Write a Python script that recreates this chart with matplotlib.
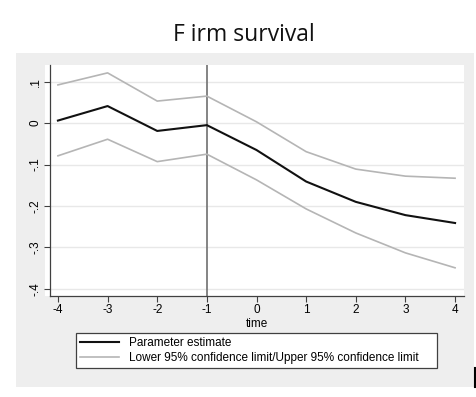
import matplotlib
matplotlib.use("Agg")
import matplotlib.pyplot as plt
from matplotlib.patches import Rectangle
from matplotlib.lines import Line2D

time = [-4, -3, -2, -1, 0, 1, 2, 3, 4]
estimate = [0.006, 0.041, -0.019, -0.005, -0.065, -0.141, -0.190, -0.222, -0.241]
upper = [0.092, 0.121, 0.053, 0.065, 0.003, -0.069, -0.111, -0.128, -0.133]
lower = [-0.079, -0.039, -0.093, -0.075, -0.137, -0.207, -0.265, -0.313, -0.349]
yticks = [0.1, 0.0, -0.1, -0.2, -0.3, -0.4]
ytick_labels = [".1", "0", "-.1", "-.2", "-.3", "-.4"]
xticks = [-4, -3, -2, -1, 0, 1, 2, 3, 4]
ref_time = -1

W, H = 477, 397
fig = plt.figure(figsize=(W / 100, H / 100), dpi=100)
fig.patch.set_facecolor("white")

def fx(px):
    return px / W

def fy(py):
    return 1 - py / H

# gray graph region
fig.patches.append(Rectangle((fx(16), fy(387)), fx(474) - fx(16), fy(53) - fy(387),
                             transform=fig.transFigure, facecolor="#eeeeee",
                             edgecolor="none", zorder=-2))
# white plot region (slightly left of axis line)
fig.patches.append(Rectangle((fx(45), fy(296)), fx(464) - fx(45), fy(65) - fy(296),
                             transform=fig.transFigure, facecolor="white",
                             edgecolor="none", zorder=-1))

ax = fig.add_axes([fx(50), fy(296), fx(464) - fx(50), fy(65) - fy(296)])
ax.set_facecolor("white")
ax.set_xlim(-4.16, 4.18)
ax.set_ylim(-0.417, 0.14)

for s in ["top", "right"]:
    ax.spines[s].set_visible(False)
for s in ["left", "bottom"]:
    ax.spines[s].set_color("#404040")
    ax.spines[s].set_linewidth(0.9)

ax.set_yticks(yticks)
ax.set_yticklabels(ytick_labels, rotation=90, va="center")
ax.set_xticks(xticks)
ax.set_xticklabels([str(t) for t in xticks])
ax.tick_params(axis="both", direction="out", length=4, width=0.8, color="#404040",
               labelsize=8.5, labelcolor="black", pad=2)
for lab in ax.get_xticklabels() + ax.get_yticklabels():
    lab.set_family("Liberation Sans")
ax.yaxis.grid(True, color="#e8e8e8", linewidth=1.0)
ax.set_axisbelow(True)

ax.axvline(ref_time, color="#707070", linewidth=1.2, zorder=2)
l1, = ax.plot(time, estimate, color="#111111", linewidth=1.5, zorder=3)
l2, = ax.plot(time, upper, color="#b5b5b5", linewidth=1.2, zorder=3)
ax.plot(time, lower, color="#b5b5b5", linewidth=1.2, zorder=3)

ax.set_xlabel("time", fontsize=8.5, family="Liberation Sans", labelpad=1)

fig.text(fx(244), fy(35), "F irm survival", ha="center", va="center",
         fontsize=16.5, family="Open Sans", color="#111111")

leg = fig.legend([l1, l2], ["Parameter estimate",
                            "Lower 95% confidence limit/Upper 95% confidence limit"],
                 loc="upper left",
                 bbox_to_anchor=(fx(76), fy(371), fx(437) - fx(76), fy(333) - fy(371)),
                 mode="expand", fancybox=False, framealpha=1, facecolor="white",
                 edgecolor="#404040", prop={"family": "Liberation Sans", "size": 8.5},
                 handlelength=3.3, handletextpad=0.8, borderaxespad=0,
                 labelspacing=0.25, borderpad=0.35)
leg.get_frame().set_linewidth(0.9)

fig.lines.append(Line2D([fx(475.5), fx(475.5)], [fy(368), fy(387)],
                        transform=fig.transFigure, color="black", linewidth=1.5))

fig.savefig("out.png", dpi=100)
